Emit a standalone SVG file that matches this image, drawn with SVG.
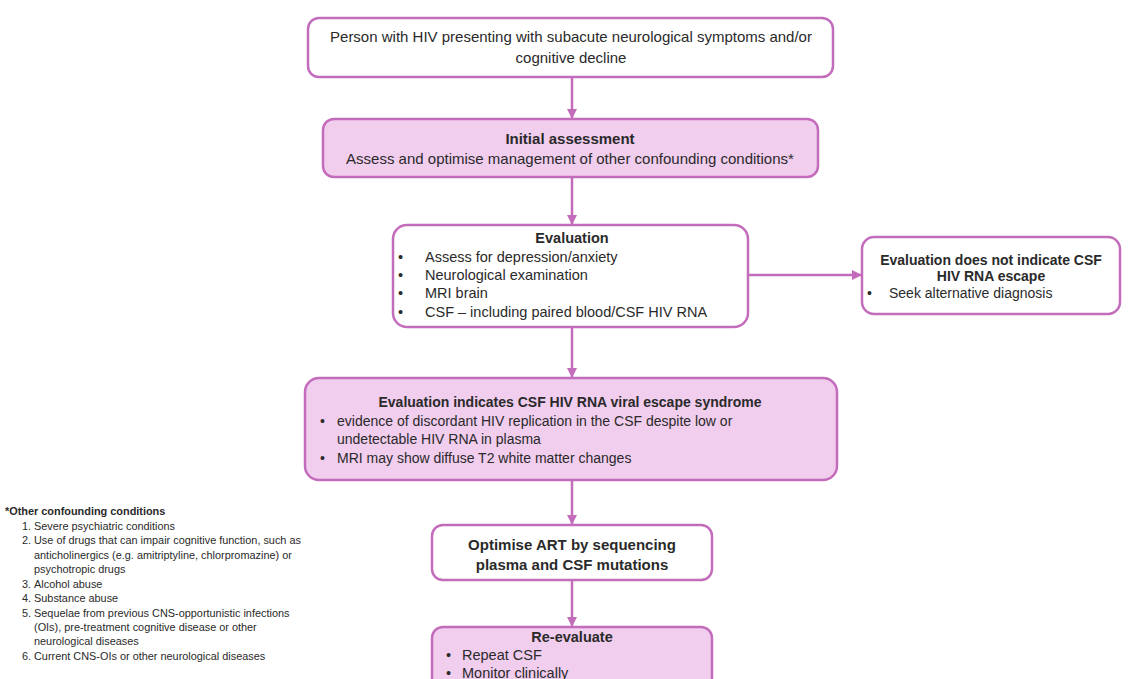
<svg xmlns="http://www.w3.org/2000/svg" width="1133" height="679" viewBox="0 0 1133 679">
<defs>
<marker id="arr" viewBox="0 0 10 10" refX="9" refY="5" markerWidth="4" markerHeight="4" orient="auto" markerUnits="strokeWidth">
<path d="M0,0 L10,5 L0,10 z" fill="#c46cbc"/>
</marker>
<style>
.box{stroke:#c46cbc;stroke-width:2.5;fill:#ffffff}
.pink{fill:#f1cdee}
.t{font-family:"Liberation Sans",Arial,sans-serif;font-size:14px;fill:#2a2a2a}
.l{font-size:15px}
.m{font-size:14.5px}
.b{font-weight:bold}
.c{text-anchor:middle}
.fn{font-family:"Liberation Sans",Arial,sans-serif;font-size:10.9px;fill:#2a2a2a}
.conn{stroke:#c46cbc;stroke-width:2.5;fill:none;marker-end:url(#arr)}
</style>
</defs>
<rect width="1133" height="679" fill="#ffffff"/>
<g id="connectors">
<line class="conn" x1="572" y1="77" x2="572" y2="118"/>
<line class="conn" x1="572" y1="177" x2="572" y2="224"/>
<line class="conn" x1="748" y1="275" x2="861" y2="275"/>
<line class="conn" x1="572" y1="327" x2="572" y2="377"/>
<line class="conn" x1="572" y1="480" x2="572" y2="524"/>
<line class="conn" x1="572" y1="580" x2="572" y2="626"/>
</g>
<g id="n1">
<rect class="box" x="308" y="18" width="525" height="59" rx="11"/>
<text class="t l c" x="571" y="42">Person with HIV presenting with subacute neurological symptoms and/or</text>
<text class="t l c" x="571" y="63">cognitive decline</text>
</g>
<g id="n2">
<rect class="box pink" x="323" y="119" width="495" height="58" rx="11"/>
<text class="t l b c" x="570" y="144">Initial assessment</text>
<text class="t l c" x="570" y="164">Assess and optimise management of other confounding conditions*</text>
</g>
<g id="n3">
<rect class="box" x="393" y="225" width="355" height="102" rx="14"/>
<text class="t m b c" x="572" y="243">Evaluation</text>
<text class="t m" x="398" y="262">•</text><text class="t m" x="425" y="262">Assess for depression/anxiety</text>
<text class="t m" x="398" y="280">•</text><text class="t m" x="425" y="280">Neurological examination</text>
<text class="t m" x="398" y="298">•</text><text class="t m" x="425" y="298">MRI brain</text>
<text class="t m" x="398" y="317">•</text><text class="t m" x="425" y="317">CSF – including paired blood/CSF HIV RNA</text>
</g>
<g id="n4">
<rect class="box" x="862" y="237" width="258" height="77" rx="12"/>
<text class="t b c" x="991" y="265">Evaluation does not indicate CSF</text>
<text class="t b c" x="991" y="281">HIV RNA escape</text>
<text class="t" x="867" y="298">•</text><text class="t" x="889" y="298">Seek alternative diagnosis</text>
</g>
<g id="n5">
<rect class="box pink" x="305" y="378" width="532" height="102" rx="14"/>
<text class="t b c" x="570" y="407">Evaluation indicates CSF HIV RNA viral escape syndrome</text>
<text class="t" x="320" y="426">•</text><text class="t" x="337" y="426">evidence of discordant HIV replication in the CSF despite low or</text>
<text class="t" x="337" y="444">undetectable HIV RNA in plasma</text>
<text class="t" x="320" y="463">•</text><text class="t" x="337" y="463">MRI may show diffuse T2 white matter changes</text>
</g>
<g id="n6">
<rect class="box" x="432" y="525" width="280" height="55" rx="11"/>
<text class="t l b c" x="572" y="550">Optimise ART by sequencing</text>
<text class="t l b c" x="572" y="570">plasma and CSF mutations</text>
</g>
<g id="n7">
<rect class="box pink" x="432" y="627" width="280" height="70" rx="11"/>
<text class="t m b c" x="572" y="642">Re-evaluate</text>
<text class="t m" x="446" y="660">•</text><text class="t m" x="462" y="660">Repeat CSF</text>
<text class="t m" x="446" y="678">•</text><text class="t m" x="462" y="678">Monitor clinically</text>
</g>
<g id="footnote">
<text class="fn b" x="5" y="515">*Other confounding conditions</text>
<text class="fn" x="22" y="530">1.</text><text class="fn" x="34" y="530">Severe psychiatric conditions</text>
<text class="fn" x="22" y="544">2.</text><text class="fn" x="34" y="544">Use of drugs that can impair cognitive function, such as</text>
<text class="fn" x="34" y="559">anticholinergics (e.g. amitriptyline, chlorpromazine) or</text>
<text class="fn" x="34" y="573">psychotropic drugs</text>
<text class="fn" x="22" y="588">3.</text><text class="fn" x="34" y="588">Alcohol abuse</text>
<text class="fn" x="22" y="602">4.</text><text class="fn" x="34" y="602">Substance abuse</text>
<text class="fn" x="22" y="617">5.</text><text class="fn" x="34" y="617">Sequelae from previous CNS-opportunistic infections</text>
<text class="fn" x="34" y="631">(OIs), pre-treatment cognitive disease or other</text>
<text class="fn" x="34" y="645">neurological diseases</text>
<text class="fn" x="22" y="660">6.</text><text class="fn" x="34" y="660">Current CNS-OIs or other neurological diseases</text>
</g>
</svg>
